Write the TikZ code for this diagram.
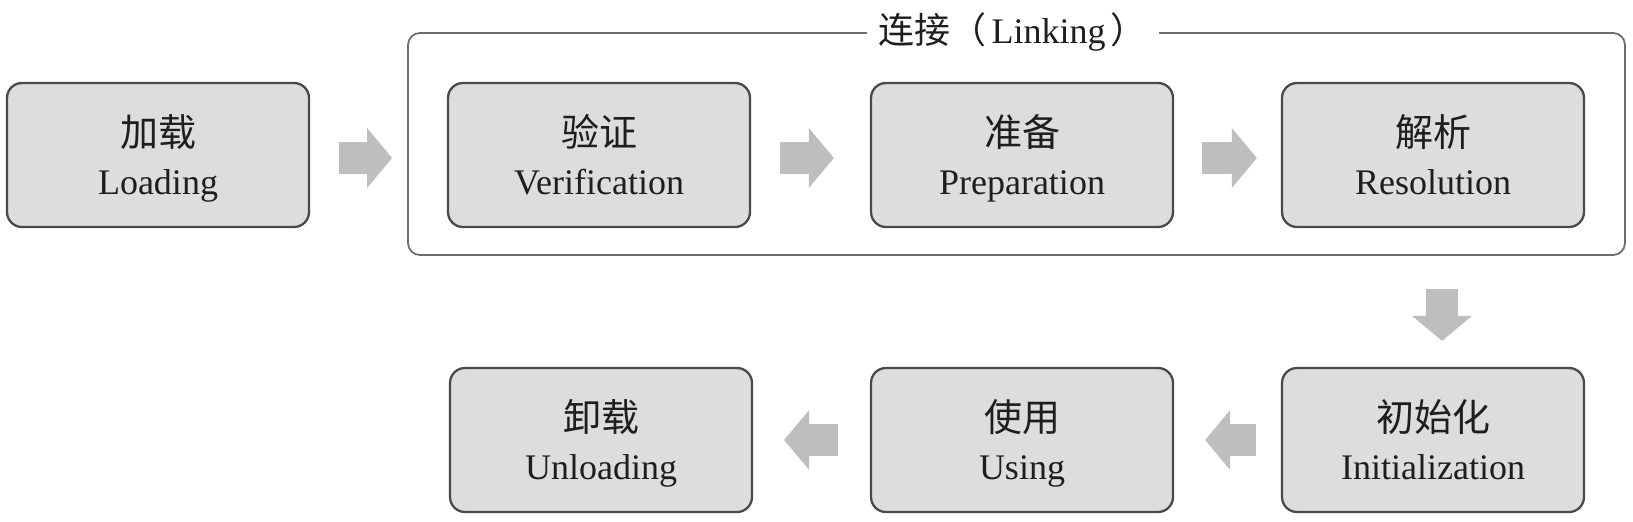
\documentclass[tikz,border=0pt]{standalone}
\usepackage{fontspec}
\setmainfont{Liberation Serif}
\newfontfamily\cjk{Noto Sans CJK SC}
\usetikzlibrary{arrows.meta}
\definecolor{boxfill}{RGB}{220,221,223}
\definecolor{boxline}{RGB}{74,74,76}
\definecolor{frameline}{RGB}{110,110,112}
\definecolor{arrowgray}{RGB}{190,190,192}
\definecolor{txt}{RGB}{30,30,30}
\newcommand{\stagetext}[2]{\raisebox{0pt}[36pt][0pt]{\fontsize{38}{38}\selectfont\cjk #1}\\\raisebox{0pt}[0pt][5.5pt]{#2}}
\begin{document}
\begin{tikzpicture}[x=1pt,y=-1pt,
  stage/.style={draw=boxline, line width=2.3pt, fill=boxfill, rounded corners=15pt,
    minimum width=302pt, minimum height=144pt, inner sep=0pt, align=center,
    text=txt, font=\fontsize{36}{47.5}\selectfont},
  frame/.style={draw=frameline, line width=1.8pt, rounded corners=12pt,
    minimum width=1217pt, minimum height=222pt, inner sep=0pt},
  barrow/.style={draw=arrowgray, line width=32pt,
    -{Triangle[length=25pt,width=60pt,line width=0pt]}},
]
\useasboundingbox (0,0) rectangle (1633,522);
\fill[white] (0,0) rectangle (1633,522);

\node[frame] (frame) at (1016.5,144) {};
\node[fill=white, inner xsep=12pt, inner ysep=2pt, text=txt,
  font=\fontsize{36}{36}\selectfont] (title) at ([xshift=-4pt]frame.north)
  {{\cjk 连接（}\hspace{5pt}Linking\hspace{5pt}{\cjk ）}};

\node[stage] (load) at (158,155) {\stagetext{加载}{Loading}};
\node[stage] (ver)  at (599,155) {\stagetext{验证}{Verification}};
\node[stage] (prep) at (1022,155) {\stagetext{准备}{Preparation}};
\node[stage] (res)  at (1433,155) {\stagetext{解析}{Resolution}};

\node[stage] (unl)  at (601,440) {\stagetext{卸载}{Unloading}};
\node[stage] (use)  at (1022,440) {\stagetext{使用}{Using}};
\node[stage] (init) at (1433,440) {\stagetext{初始化}{Initialization}};

\draw[barrow, shorten <=29pt, shorten >=15pt]
  ([yshift=-3pt]load.east) -- ([yshift=-3pt]load.east -| frame.west);
\draw[barrow, shorten <=29pt, shorten >=36pt]
  ([yshift=-3pt]ver.east) -- ([yshift=-3pt]prep.west);
\draw[barrow, shorten <=28pt, shorten >=24pt]
  ([yshift=-3pt]prep.east) -- ([yshift=-3pt]res.west);
\draw[barrow, shorten <=33pt, shorten >=26pt]
  ([xshift=9pt]res.south |- frame.south) -- ([xshift=9pt]init.north);
\draw[barrow, shorten <=25pt, shorten >=31pt]
  (init.west) -- (use.east);
\draw[barrow, shorten <=32pt, shorten >=31pt]
  (use.west) -- (unl.east);
\end{tikzpicture}
\end{document}
